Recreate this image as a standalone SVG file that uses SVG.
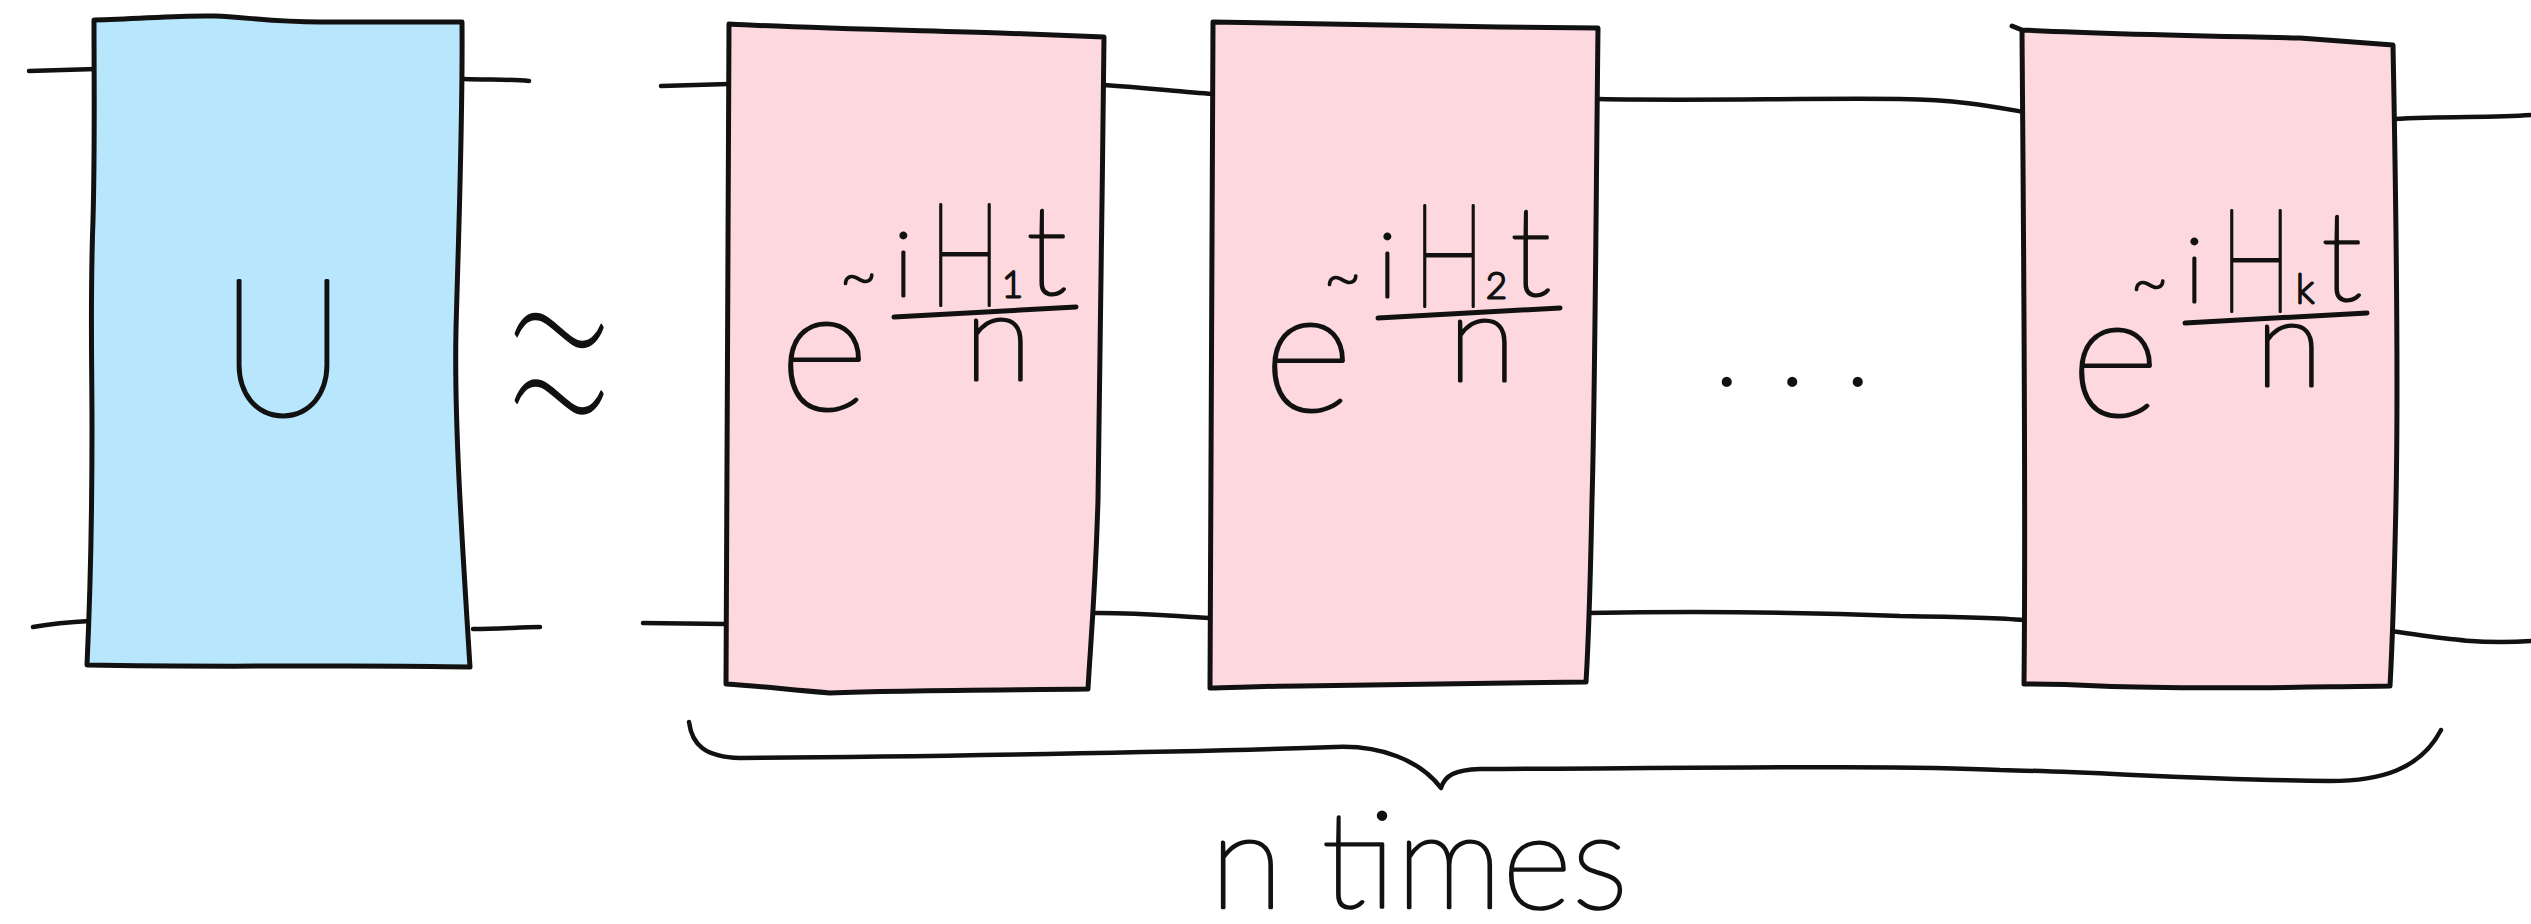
<svg xmlns="http://www.w3.org/2000/svg" width="2531" height="924" viewBox="0 0 2531 924">
<style>
.box{stroke:#111;stroke-width:5;stroke-linejoin:round;stroke-linecap:round}
.blue{fill:#b8e7fd}
.pink{fill:#fdd9df}
.wire{fill:none;stroke:#111;stroke-width:4.5;stroke-linecap:round;stroke-linejoin:round}
.t{font-family:Lato,"DejaVu Sans",sans-serif;font-weight:100;fill:#111;stroke:#111;stroke-width:3;stroke-linejoin:round}
.bar{stroke:#111;stroke-width:5;stroke-linecap:round}
</style>
<rect width="2531" height="924" fill="#fff"/>
<g id="connectors">
<path class="wire" d="M29,71 L96,69"/>
<path class="wire" d="M464,79 C490,80 510,79 529,81"/>
<path class="wire" d="M661,86 L729,84"/>
<path class="wire" d="M1104,85 C1150,88 1180,92 1213,94"/>
<path class="wire" d="M1598,99 C1700,101 1800,98 1900,99 C1960,100 1990,106 2024,112"/>
<path class="wire" d="M2393,119 C2450,116 2490,118 2531,115"/>
<path class="wire" d="M33,627 C50,624 70,622 90,621"/>
<path class="wire" d="M473,629 C500,629 520,627 540,627"/>
<path class="wire" d="M643,623 L726,624"/>
<path class="wire" d="M1088,613 C1140,612 1180,617 1210,618"/>
<path class="wire" d="M1586,613 C1700,611 1800,612 1900,616 C1960,617 2000,618 2024,620"/>
<path class="wire" d="M2390,631 C2430,636 2470,645 2531,641"/>
</g>
<g id="node-U">
<path class="box blue" d="M94,20 C140,19 180,15 215,16 C245,17 270,22 320,22 L462,22 C463,120 458,250 456,330 C454,420 462,540 470,667 C350,664 250,668 87,665 C90,600 92,520 92,430 C92,360 90,300 93,220 C95,150 94,80 94,20 Z"/>
<text class="t" x="283" y="415" font-size="192" text-anchor="middle" textLength="128" lengthAdjust="spacingAndGlyphs">U</text>
</g>
<g id="approx">
<text class="t" x="559" y="515" font-size="450" text-anchor="middle" textLength="140" lengthAdjust="spacingAndGlyphs">≈</text>
</g>
<g id="node-1">
<path class="box pink" d="M729,24 C800,28 900,30 1000,33 L1104,37 C1102,200 1100,400 1098,500 C1095,600 1090,650 1088,689 C1000,690 900,690 830,693 C790,690 760,686 726,684 C728,500 727,300 729,24 Z"/>
<line class="bar" x1="894" y1="317" x2="1076" y2="307"/>
<text class="t"><tspan x="779" y="410" font-size="174" textLength="90" lengthAdjust="spacingAndGlyphs">e</tspan><tspan x="840" y="298" font-size="64">~</tspan><tspan x="894" y="296" font-size="90">i</tspan><tspan x="929" y="306" font-size="144" textLength="72" lengthAdjust="spacingAndGlyphs">H</tspan><tspan x="1002" y="297" font-size="36">1</tspan><tspan x="1026" y="294" font-size="125">t</tspan><tspan x="964" y="380" font-size="122" textLength="68" lengthAdjust="spacingAndGlyphs">n</tspan></text>
</g>
<g id="node-2">
<path class="box pink" d="M1213,22 C1300,24 1400,26 1500,27 L1598,28 C1596,200 1595,400 1592,500 C1590,600 1588,650 1586,682 C1500,684 1400,684 1300,686 C1260,686 1230,688 1210,688 C1210,500 1212,300 1213,22 Z"/>
<line class="bar" x1="1378" y1="318" x2="1560" y2="308"/>
<text class="t"><tspan x="1263" y="411" font-size="174" textLength="90" lengthAdjust="spacingAndGlyphs">e</tspan><tspan x="1324" y="299" font-size="64">~</tspan><tspan x="1378" y="297" font-size="90">i</tspan><tspan x="1413" y="307" font-size="144" textLength="72" lengthAdjust="spacingAndGlyphs">H</tspan><tspan x="1486" y="298" font-size="36">2</tspan><tspan x="1510" y="295" font-size="125">t</tspan><tspan x="1448" y="381" font-size="122" textLength="68" lengthAdjust="spacingAndGlyphs">n</tspan></text>
</g>
<g id="dots">
<text class="t" x="1714" y="385" font-size="110" letter-spacing="40">...</text>
</g>
<g id="node-k">
<path class="box pink" d="M2012,26 L2022,30 C2100,34 2200,36 2300,38 L2393,45 C2396,200 2398,400 2396,500 C2394,600 2392,650 2390,686 C2300,687 2200,690 2100,686 C2060,684 2040,684 2024,684 C2026,500 2024,300 2022,30 Z"/>
<line class="bar" x1="2185" y1="323" x2="2367" y2="313"/>
<text class="t"><tspan x="2070" y="416" font-size="174" textLength="90" lengthAdjust="spacingAndGlyphs">e</tspan><tspan x="2131" y="304" font-size="64">~</tspan><tspan x="2185" y="302" font-size="90">i</tspan><tspan x="2220" y="312" font-size="144" textLength="72" lengthAdjust="spacingAndGlyphs">H</tspan><tspan x="2296" y="303" font-size="40">k</tspan><tspan x="2321" y="300" font-size="125">t</tspan><tspan x="2255" y="386" font-size="122" textLength="68" lengthAdjust="spacingAndGlyphs">n</tspan></text>
</g>
<g id="brace">
<path class="wire" d="M689,722 C692,745 705,757 740,758 C900,757 1200,752 1335,747 C1380,745 1420,760 1441,788 C1445,775 1455,770 1480,769 C1700,768 1900,765 2000,770 C2100,772 2200,780 2330,781 C2380,781 2420,770 2441,730"/>
<text class="t" x="1210" y="908" font-size="134" textLength="418" lengthAdjust="spacingAndGlyphs">n times</text>
</g>
</svg>
